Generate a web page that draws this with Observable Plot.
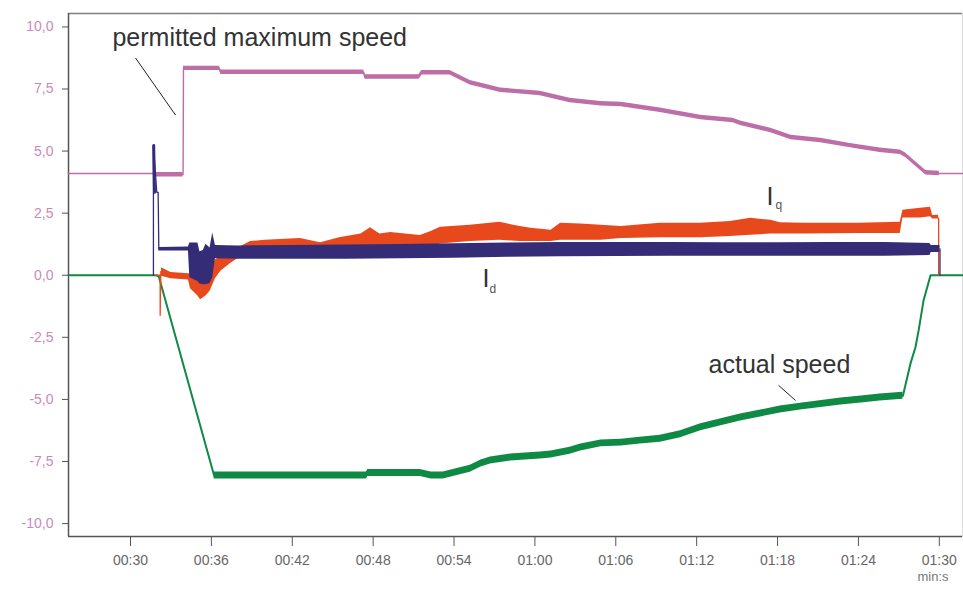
<!DOCTYPE html>
<html><head><meta charset="utf-8">
<script src="https://cdn.jsdelivr.net/npm/d3@7"></script>
<script src="https://cdn.jsdelivr.net/npm/@observablehq/plot@0.6"></script>
<style>body{margin:0;background:#fff}svg{display:block}</style>
</head><body><div id="chart"></div>
<script>
// ---- axis ticks (time in seconds, values) ----
const xTicks = [30, 36, 42, 48, 54, 60, 66, 72, 78, 84, 90];
const xTickLabels = ["00:30","00:36","00:42","00:48","00:54","01:00","01:06","01:12","01:18","01:24","01:30"];
const yTicks = [10, 7.5, 5, 2.5, 0, -2.5, -5, -7.5, -10];
const yTickLabels = ["10,0","7,5","5,0","2,5","0,0","-2,5","-5,0","-7,5","-10,0"];
const xUnit = "min:s";

// ---- permitted maximum speed [t (s), value] ----
const permittedSpeed = [[25.4,4.1],[31.85,4.1],[31.9,4.05],[33.9,4.05],[33.93,8.33],[36.6,8.33],[36.7,8.17],[47.3,8.17],[47.4,7.98],[51.4,7.98],[51.6,8.15],[53.7,8.15],[55.2,7.75],[57.45,7.45],[60.4,7.32],[62.6,7.04],[64.9,6.91],[66.4,6.88],[69.3,6.64],[72.3,6.35],[74.7,6.23],[75.25,6.12],[77.5,5.83],[79.0,5.55],[81.2,5.43],[83.4,5.22],[85.6,5.03],[87.1,4.95],[87.5,4.83],[88.2,4.5],[89.0,4.13],[90.0,4.1],[91.72,4.1]];

// ---- actual speed [t, value] ----
const actualSpeed = [[25.4,0],[31.9,0],[32.1,-0.05],[36.2,-8.06],[47.5,-8.06],[47.6,-7.96],[51.5,-7.96],[52.3,-8.06],[53.2,-8.06],[55.2,-7.79],[56.0,-7.58],[56.7,-7.46],[58.2,-7.34],[60.4,-7.26],[61.2,-7.22],[62.6,-7.07],[63.4,-6.94],[64.9,-6.77],[66.4,-6.74],[67.8,-6.66],[69.3,-6.58],[70.8,-6.4],[72.3,-6.12],[75.25,-5.73],[78.2,-5.41],[79.7,-5.29],[82.7,-5.08],[84.2,-5.0],[85.6,-4.92],[87.3,-4.85],[87.5,-4.39],[87.86,-3.56],[88.23,-2.9],[88.46,-2.24],[88.83,-1.02],[89.35,0],[91.72,0]];

// ---- Id (blue): transitions [t, value] and noisy band [t, low, high] ----
const idStart = [[31.7,0],[31.7,5.22],[31.95,3.34],[32.05,3.34],[32.1,1.06],[34.3,1.06]];
const idSpike = [[31.72,5.22],[31.78,3.34]];
const idEnd = [[90.05,1.06],[90.05,0]];
const idBand = [[32.1,0.98,1.12],[34.3,0.98,1.14],[34.4,-0.1,1.3],[35.0,-0.25,1.3],[35.15,-0.35,0.95],[35.4,-0.38,1.0],[35.6,-0.38,1.25],[35.9,-0.33,1.1],[36.1,-0.1,1.7],[36.3,0.66,1.2],[38,0.64,1.18],[42,0.64,1.2],[46,0.64,1.22],[50,0.66,1.24],[54,0.68,1.27],[58,0.72,1.3],[62,0.74,1.32],[66,0.76,1.32],[70,0.77,1.32],[74,0.77,1.31],[78,0.77,1.31],[82,0.77,1.32],[86,0.77,1.32],[89.3,0.8,1.28],[89.4,0.92,1.2],[90.05,0.92,1.2]];

// ---- Iq (orange) ----
const iqStart = [[31.85,0],[32.2,0],[32.2,-1.61],[32.25,0.16],[32.3,0.16]];
const iqEnd = [[89.95,2.3],[89.95,0]];
const iqBand = [[32.3,-0.04,0.3],[33.0,-0.14,0.11],[34.3,-0.19,0.06],[34.45,-0.54,0.06],[35.0,-0.84,-0.04],[35.2,-0.99,-0.14],[35.6,-0.84,-0.04],[35.9,-0.64,0.16],[36.3,-0.14,0.61],[36.7,0.16,0.76],[37.4,0.46,0.91],[38.2,0.76,1.16],[38.9,0.91,1.36],[40,0.91,1.41],[42.6,1.01,1.48],[44.1,1.06,1.31],[45.5,1.11,1.51],[47.1,1.16,1.66],[47.8,1.16,1.91],[48.5,1.16,1.66],[49.3,1.11,1.72],[51.5,1.11,1.6],[52.3,1.16,1.76],[53.0,1.26,1.93],[55.2,1.36,2.01],[57.4,1.41,2.13],[58.9,1.36,1.96],[59.7,1.36,1.89],[61.2,1.36,1.81],[61.9,1.41,2.09],[63.4,1.41,2.06],[64.9,1.41,2.01],[66.4,1.48,1.96],[69.3,1.51,2.09],[72.3,1.51,2.09],[74.5,1.56,2.16],[76.0,1.61,2.3],[77.5,1.66,2.21],[78.2,1.66,2.11],[80,1.66,2.09],[84,1.68,2.09],[87.1,1.68,2.13],[87.3,2.31,2.62],[88.6,2.31,2.7],[89.35,2.36,2.74],[89.5,2.26,2.41],[89.95,2.26,2.42]];

// ---- annotations [t, value, text] ----
const bigLabels = [[28.66,9.54,"permitted maximum speed"],[72.88,-3.6,"actual speed"],[77.18,3.14,"I"],[56.11,-0.16,"I"]];
const subLabels = [[77.85,2.82,"q"],[56.63,-0.56,"d"]];
const pointers = [[30.37,8.75,33.34,6.45],[78.07,-4.43,79.33,-5.04]];

// ---- helpers ----
const pts = a => a.map(([t, v]) => ({t, v}));
const band = a => a.map(([t, lo, hi]) => ({t, lo, hi}));
const labels = a => a.map(([t, v, s]) => ({t, v, s}));

const C = {perm: "#bd6ea7", act: "#0f8a45", id: "#352c78", iq: "#e8491c"};
const X0 = 25.4, X1 = 91.72, Y0 = -10.52, Y1 = 10.54;

const permBand = permittedSpeed.filter(([t]) => t >= 31.85 && t <= 90).map(([t, v]) => ({t, lo: v - 0.09, hi: v + 0.09}));
const actBand = actualSpeed.filter(([t]) => t >= 36.2 && t <= 87.3).map(([t, v]) => ({t, lo: v - 0.14, hi: v + 0.14}));

const chart = Plot.plot({
  width: 963, height: 590,
  marginLeft: 68, marginRight: 1, marginTop: 13, marginBottom: 54,
  x: {domain: [X0, X1]},
  y: {domain: [Y0, Y1]},
  style: {fontFamily: "'Liberation Sans', Arial, sans-serif", background: "#fff", overflow: "visible"},
  marks: [
    Plot.frame({stroke: "#dcdcdc"}),
    Plot.ruleY([Y1], {stroke: "#808080", strokeWidth: 1.5}),
    Plot.ruleX([X0], {stroke: "#555", strokeWidth: 1.5}),
    Plot.ruleY([Y0], {stroke: "#555", strokeWidth: 1.5}),
    Plot.axisY(yTicks, {tickFormat: d => yTickLabels[yTicks.indexOf(d)], tickSize: 6, tickPadding: 9, fontSize: 14, fill: "#c88abb", stroke: "#555", label: null}),
    Plot.axisX(xTicks, {tickFormat: d => xTickLabels[xTicks.indexOf(d)], tickSize: 10, tickPadding: 9, fontSize: 14, fill: "#666", stroke: "#555", label: null}),
    Plot.text([xUnit], {frameAnchor: "bottom-right", dx: -14, dy: 44, textAnchor: "end", fontSize: 13, fill: "#777"}),
    // permitted maximum speed
    Plot.line(pts(permittedSpeed), {x: "t", y: "v", stroke: C.perm, strokeWidth: 1.4}),
    Plot.areaY(permBand, {x: "t", y1: "lo", y2: "hi", fill: C.perm}),
    // actual speed
    Plot.line(pts(actualSpeed), {x: "t", y: "v", stroke: C.act, strokeWidth: 2}),
    Plot.areaY(actBand, {x: "t", y1: "lo", y2: "hi", fill: C.act}),
    // Iq
    Plot.line(pts(iqStart), {x: "t", y: "v", stroke: C.iq, strokeWidth: 1.3}),
    Plot.line(pts(iqEnd), {x: "t", y: "v", stroke: C.iq, strokeWidth: 1.3}),
    Plot.areaY(band(iqBand), {x: "t", y1: "lo", y2: "hi", fill: C.iq}),
    // Id
    Plot.line(pts(idStart), {x: "t", y: "v", stroke: C.id, strokeWidth: 1.3}),
    Plot.line(pts(idSpike), {x: "t", y: "v", stroke: C.id, strokeWidth: 3}),
    Plot.line(pts(idEnd), {x: "t", y: "v", stroke: C.id, strokeWidth: 1.3}),
    Plot.areaY(band(idBand), {x: "t", y1: "lo", y2: "hi", fill: C.id}),
    // annotations
    Plot.link(pointers.map(([a, b, c, d]) => ({a, b, c, d})), {x1: "a", y1: "b", x2: "c", y2: "d", stroke: "#222", strokeWidth: 1}),
    Plot.text(labels(bigLabels), {x: "t", y: "v", text: "s", textAnchor: "start", fontSize: 25, fill: "#333"}),
    Plot.text(labels(subLabels), {x: "t", y: "v", text: "s", textAnchor: "start", fontSize: 12, fill: "#555"})
  ]
});
document.getElementById("chart").append(chart);
</script>
</body></html>
